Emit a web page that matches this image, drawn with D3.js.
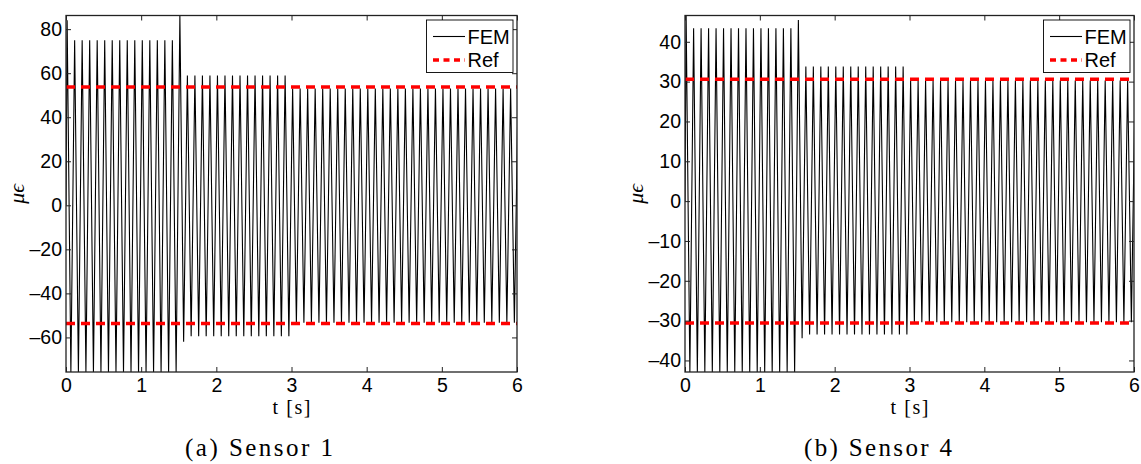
<!DOCTYPE html>
<html>
<head>
<meta charset="utf-8">
<script src="https://cdn.jsdelivr.net/npm/d3@7"></script>
<style>
  body { margin: 0; background: #fff; }
  svg { display: block; }
  .tick text { font-family: "Liberation Sans", Arial, sans-serif; font-size: 19.5px; fill: #000; }
  .serif { font-family: "Liberation Serif", "DejaVu Serif", serif; fill: #000; }
</style>
</head>
<body>
<svg id="chart" width="1141" height="464"></svg>
<script>
// times of the maxima / minima of the FEM strain signal [s]
const peakTimes = [
  0.015, 0.115, 0.215, 0.315, 0.415, 0.515, 0.615, 0.715, 0.815, 0.915, 1.015, 1.115, 1.215, 1.315, 1.415,
  1.515, 1.615, 1.715, 1.815, 1.915, 2.015, 2.115, 2.215, 2.315, 2.415, 2.515, 2.615, 2.715, 2.815, 2.915,
  3.015, 3.115, 3.215, 3.315, 3.415, 3.515, 3.615, 3.715, 3.815, 3.915, 4.015, 4.115, 4.215, 4.315, 4.415,
  4.515, 4.615, 4.715, 4.815, 4.915, 5.015, 5.115, 5.215, 5.315, 5.415, 5.515, 5.615, 5.715, 5.815, 5.915, 6.015
];
const troughTimes = [
  0.065, 0.165, 0.265, 0.365, 0.465, 0.565, 0.665, 0.765, 0.865, 0.965, 1.065, 1.165, 1.265, 1.365, 1.465,
  1.565, 1.665, 1.765, 1.865, 1.965, 2.065, 2.165, 2.265, 2.365, 2.465, 2.565, 2.665, 2.765, 2.865, 2.965,
  3.065, 3.165, 3.265, 3.365, 3.465, 3.565, 3.665, 3.765, 3.865, 3.965, 4.065, 4.165, 4.265, 4.365, 4.465,
  4.565, 4.665, 4.765, 4.865, 4.965, 5.065, 5.165, 5.265, 5.365, 5.465, 5.565, 5.665, 5.765, 5.865, 5.965
];

// Sensor 1 (micro strain)
const s1Peaks = [
  84, 75, 75, 75, 75, 75, 75, 75, 75, 75, 75, 75, 75, 75, 75,
  86.2, 59, 59, 59, 59, 59, 59, 59, 59, 59, 59, 59, 59, 59, 59,
  53, 53, 53, 53, 53, 53, 53, 53, 53, 53, 53, 53, 53, 53, 53,
  53, 53, 53, 53, 53, 53, 53, 53, 53, 53, 53, 53, 53, 53, 53, 53
];
const s1Troughs = [
  -75.7, -75.7, -75.7, -75.7, -75.7, -75.7, -75.7, -75.7, -75.7, -75.7, -75.7, -75.7, -75.7, -75.7, -75.7,
  -62, -59.5, -59.5, -59.5, -59.5, -59.5, -59.5, -59.5, -59.5, -59.5, -59.5, -59.5, -59.5, -59.5, -59.5,
  -53.3, -53.3, -53.3, -53.3, -53.3, -53.3, -53.3, -53.3, -53.3, -53.3, -53.3, -53.3, -53.3, -53.3, -53.3,
  -53.3, -53.3, -53.3, -53.3, -53.3, -53.3, -53.3, -53.3, -53.3, -53.3, -53.3, -53.3, -53.3, -53.3, -53.3
];
const s1Ref = [53.7, -53.7];
const s1YLim = [-75.7, 86.2];
const s1YTicks = [-60, -40, -20, 0, 20, 40, 60, 80];

// Sensor 4
const s4Peaks = [
  46.6, 43.4, 43.4, 43.4, 43.4, 43.4, 43.4, 43.4, 43.4, 43.4, 43.4, 43.4, 43.4, 43.4, 43.4,
  45.5, 33.8, 33.8, 33.8, 33.8, 33.8, 33.8, 33.8, 33.8, 33.8, 33.8, 33.8, 33.8, 33.8, 33.8,
  30.3, 30.3, 30.3, 30.3, 30.3, 30.3, 30.3, 30.3, 30.3, 30.3, 30.3, 30.3, 30.3, 30.3, 30.3,
  30.3, 30.3, 30.3, 30.3, 30.3, 30.3, 30.3, 30.3, 30.3, 30.3, 30.3, 30.3, 30.3, 30.3, 30.3, 30.3
];
const s4Troughs = [
  -42.9, -42.9, -42.9, -42.9, -42.9, -42.9, -42.9, -42.9, -42.9, -42.9, -42.9, -42.9, -42.9, -42.9, -42.9,
  -34.4, -33.5, -33.5, -33.5, -33.5, -33.5, -33.5, -33.5, -33.5, -33.5, -33.5, -33.5, -33.5, -33.5, -33.5,
  -30.4, -30.4, -30.4, -30.4, -30.4, -30.4, -30.4, -30.4, -30.4, -30.4, -30.4, -30.4, -30.4, -30.4, -30.4,
  -30.4, -30.4, -30.4, -30.4, -30.4, -30.4, -30.4, -30.4, -30.4, -30.4, -30.4, -30.4, -30.4, -30.4, -30.4
];
const s4Ref = [30.6, -30.6];
const s4YLim = [-42.9, 46.6];
const s4YTicks = [-40, -30, -20, -10, 0, 10, 20, 30, 40];

const xLim = [0, 6];
const xTicks = [0, 1, 2, 3, 4, 5, 6];
const startValue = 0;

const svg = d3.select('#chart');
const fmt = d => d3.format('d')(d).replace('\u2212', '\u2013').replace('-', '\u2013');

const buildSeries = (peaks, troughs) => {
  const pts = [[0, startValue]];
  peakTimes.forEach((t, i) => pts.push([t, peaks[i]]));
  troughTimes.forEach((t, i) => pts.push([t, troughs[i]]));
  return pts.sort((a, b) => a[0] - b[0]);
};

const drawPanel = (id, o) => {
  const { left, right, top, bottom } = o.box;
  const g = svg.append('g');
  const x = d3.scaleLinear().domain(xLim).range([left, right]);
  const y = d3.scaleLinear().domain(o.yLim).range([bottom, top]);

  g.append('clipPath').attr('id', 'clip' + id)
    .append('rect').attr('x', left).attr('y', top)
    .attr('width', right - left).attr('height', bottom - top);

  const plot = g.append('g').attr('clip-path', `url(#clip${id})`);

  plot.append('path')
    .datum(buildSeries(o.peaks, o.troughs))
    .attr('fill', 'none').attr('stroke', '#000').attr('stroke-width', 1.1)
    .attr('d', d3.line().x(d => x(d[0])).y(d => y(d[1])));

  o.ref.forEach(v => {
    plot.append('path')
      .datum([[xLim[0], v], [xLim[1], v]])
      .attr('fill', 'none').attr('stroke', '#ff0000').attr('stroke-width', 3.6)
      .attr('stroke-dasharray', '9,6')
      .attr('d', d3.line().x(d => x(d[0])).y(d => y(d[1])));
  });

  // axes, ticks inside on all four sides
  const axB = d3.axisBottom(x).tickValues(xTicks).tickSizeInner(-5).tickSizeOuter(0).tickPadding(6).tickFormat(fmt);
  const axT = d3.axisTop(x).tickValues(xTicks).tickSizeInner(-5).tickSizeOuter(0).tickFormat('');
  const axL = d3.axisLeft(y).tickValues(o.yTicks).tickSizeInner(-5).tickSizeOuter(0).tickPadding(4).tickFormat(fmt);
  const axR = d3.axisRight(y).tickValues(o.yTicks).tickSizeInner(-5).tickSizeOuter(0).tickFormat('');

  [[axB, `translate(0,${bottom})`], [axT, `translate(0,${top})`],
   [axL, `translate(${left},0)`], [axR, `translate(${right},0)`]].forEach(([ax, tr]) => {
    const a = g.append('g').attr('transform', tr).call(ax);
    a.select('.domain').remove();
    a.selectAll('.tick line').attr('stroke', '#222').attr('stroke-width', 1);
  });

  g.append('rect')
    .attr('x', left).attr('y', top).attr('width', right - left).attr('height', bottom - top)
    .attr('fill', 'none').attr('stroke', '#222').attr('stroke-width', 1.3);

  // legend
  const lx = right - 90.5, ly = top + 4.5;
  const leg = g.append('g');
  leg.append('rect').attr('x', lx).attr('y', ly).attr('width', 86.5).attr('height', 52.5)
    .attr('fill', '#fff').attr('stroke', '#000').attr('stroke-width', 0.9);
  leg.append('line').attr('x1', lx + 6.5).attr('x2', lx + 38.5).attr('y1', ly + 16.5).attr('y2', ly + 16.5)
    .attr('stroke', '#000').attr('stroke-width', 1.1);
  leg.append('line').attr('x1', lx + 6.5).attr('x2', lx + 38.5).attr('y1', ly + 40).attr('y2', ly + 40)
    .attr('stroke', '#ff0000').attr('stroke-width', 3.6).attr('stroke-dasharray', '6,4.5');
  leg.append('text').attr('x', lx + 41).attr('y', ly + 23.5)
    .style('font-family', '"Liberation Sans", Arial, sans-serif').style('font-size', '20px').text('FEM');
  leg.append('text').attr('x', lx + 41).attr('y', ly + 47)
    .style('font-family', '"Liberation Sans", Arial, sans-serif').style('font-size', '20px').text('Ref');

  // axis labels
  g.append('text').attr('class', 'serif')
    .attr('transform', `translate(${left - 42},${(top + bottom) / 2}) rotate(-90)`)
    .attr('text-anchor', 'middle').style('font-size', '22px').style('font-style', 'italic')
    .text('\u03bc\u03f5');
  g.append('text').attr('class', 'serif')
    .attr('x', (left + right) / 2).attr('y', bottom + 42)
    .attr('text-anchor', 'middle').style('font-size', '20px')
    .attr('textLength', 38).attr('lengthAdjust', 'spacing').text('t [s]');
  g.append('text').attr('class', 'serif')
    .attr('x', o.captionX).attr('y', 456)
    .attr('text-anchor', 'middle').style('font-size', '25px')
    .attr('textLength', 148).attr('lengthAdjust', 'spacing').text(o.caption);
};

drawPanel('a', {
  box: { left: 66, right: 517, top: 15.5, bottom: 372 },
  peaks: s1Peaks, troughs: s1Troughs, ref: s1Ref,
  yLim: s1YLim, yTicks: s1YTicks,
  caption: '(a)  Sensor 1', captionX: 259
});

drawPanel('b', {
  box: { left: 685, right: 1134, top: 15.5, bottom: 372 },
  peaks: s4Peaks, troughs: s4Troughs, ref: s4Ref,
  yLim: s4YLim, yTicks: s4YTicks,
  caption: '(b)  Sensor 4', captionX: 878
});
</script>
</body>
</html>
